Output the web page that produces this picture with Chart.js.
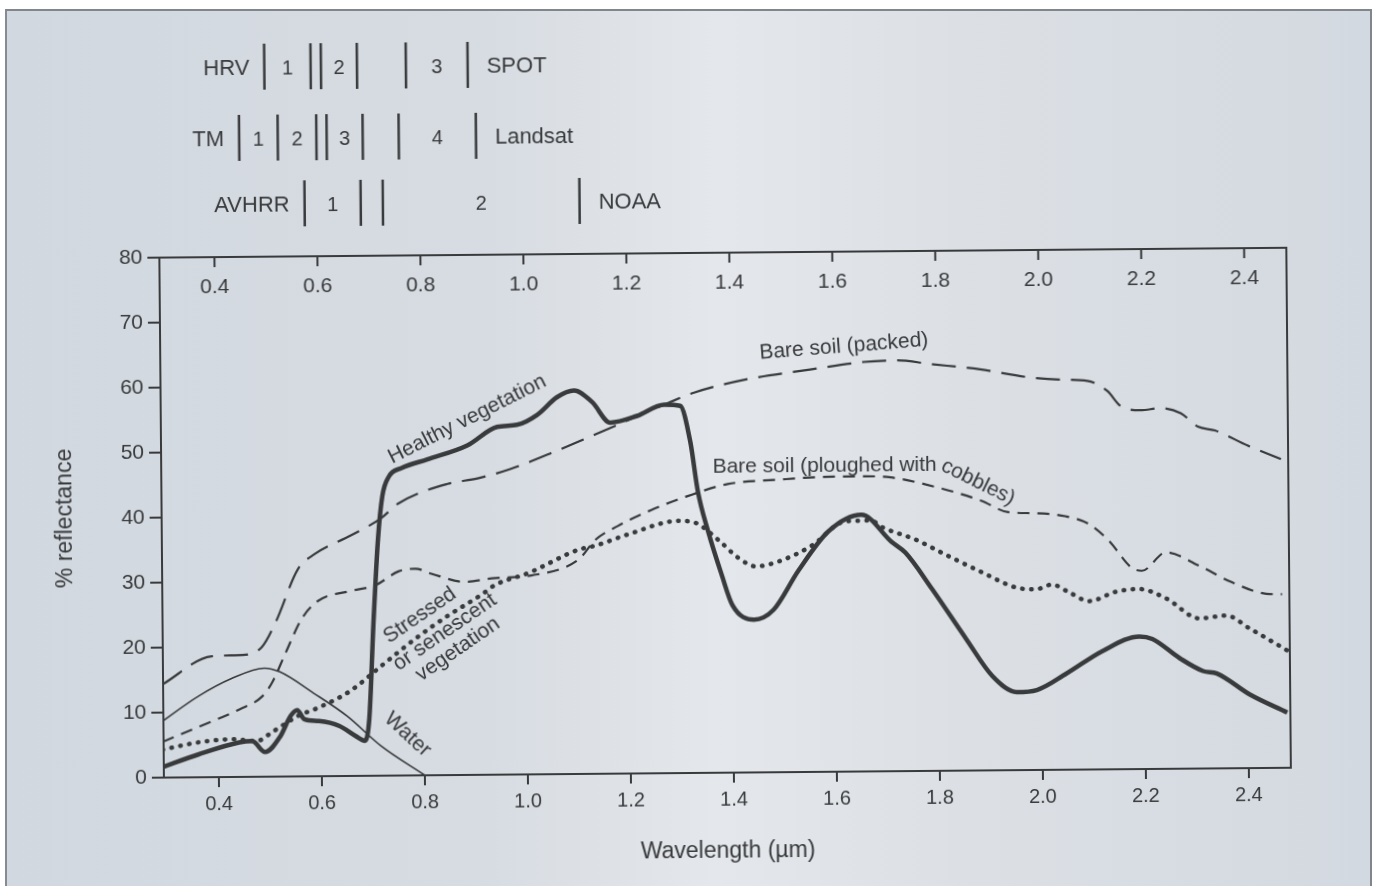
<!DOCTYPE html>
<html>
<head>
<meta charset="utf-8">
<script src="https://cdn.jsdelivr.net/npm/chart.js@4.4.1/dist/chart.umd.min.js"></script>
<style>
html, body { margin: 0; padding: 0; background: #fff; width: 1376px; height: 886px; overflow: hidden; }
#frame {
    position: absolute; left: 5px; top: 9px; width: 1363px; height: 877px;
    border-top: 2px solid #80868c; border-left: 2px solid #868b91; border-right: 2px solid #80868c;
    background: linear-gradient(90deg, #d1d8df 0%, #d7dce2 35%, #e4e7eb 52%, #dce0e5 70%, #d3d9e0 100%);
}
canvas { position: absolute; left: 0; top: 0; transform: rotate(-0.5deg); }
</style>
</head>
<body>
<div id="frame"></div>
<canvas id="chart" width="1376" height="886"></canvas>
<script>
// Tick values
const xTicks = [0.4, 0.6, 0.8, 1.0, 1.2, 1.4, 1.6, 1.8, 2.0, 2.2, 2.4];

// Healthy vegetation
const healthyX = [0.29, 0.36, 0.44, 0.465, 0.49, 0.52, 0.54, 0.553, 0.567, 0.595, 0.635, 0.665, 0.684, 0.693, 0.703, 0.713, 0.722, 0.735, 0.76, 0.81, 0.888, 0.946, 0.985, 1.024, 1.063, 1.096, 1.131, 1.166, 1.218, 1.271, 1.302, 1.321, 1.335, 1.354, 1.38, 1.40, 1.442, 1.48, 1.529, 1.588, 1.652, 1.71, 1.737, 1.788, 1.854, 1.904, 1.951, 1.99, 2.048, 2.118, 2.19, 2.215, 2.268, 2.313, 2.34, 2.404, 2.476];
const healthyY = [1.6, 3.5, 5.3, 5.5, 3.8, 6.2, 9.3, 10.2, 8.8, 8.5, 7.7, 6.2, 5.4, 8.8, 24, 36.5, 43, 46, 47.3, 48.6, 50.7, 53.5, 53.8, 55.3, 58, 59, 57.2, 54, 55, 56.7, 56.5, 51, 43.3, 37.2, 30.4, 25.8, 23.5, 25, 31, 37, 39.5, 35.3, 33.6, 28, 20.2, 14.5, 12, 12.3, 14.8, 18.2, 20.4, 20, 17, 15, 14.6, 11.3, 8.5];

// Water
const waterX = [0.29, 0.36, 0.425, 0.49, 0.52, 0.585, 0.65, 0.715, 0.80];
const waterY = [8.6, 12.4, 15.1, 16.7, 16.1, 12.8, 9.2, 4.6, 0];

// Bare soil (packed)
const packedX = [0.291, 0.388, 0.454, 0.486, 0.513, 0.557, 0.59, 0.66, 0.719, 0.752, 0.849, 0.907, 0.971, 1.063, 1.121, 1.199, 1.271, 1.329, 1.426, 1.555, 1.659, 1.724, 1.788, 1.885, 1.982, 2.048, 2.093, 2.132, 2.157, 2.196, 2.235, 2.274, 2.307, 2.34, 2.404, 2.468];
const packedY = [14.3, 18.6, 18.8, 20, 23.8, 31.9, 34.2, 37, 39.6, 41.8, 44.8, 45.6, 47, 49.8, 51.7, 54.3, 56.7, 58.5, 60.4, 61.9, 63, 63.2, 62.6, 61.7, 60.4, 60, 59.8, 58.2, 55.9, 55.2, 55.5, 54.7, 52.6, 52, 49.6, 47.5];

// Bare soil (ploughed with cobbles)
const ploughedX = [0.291, 0.363, 0.441, 0.486, 0.505, 0.532, 0.563, 0.596, 0.655, 0.707, 0.752, 0.785, 0.816, 0.882, 0.933, 1.01, 1.102, 1.135, 1.179, 1.244, 1.315, 1.393, 1.49, 1.60, 1.66, 1.71, 1.80, 1.885, 1.937, 1.99, 2.048, 2.093, 2.132, 2.176, 2.196, 2.243, 2.307, 2.371, 2.437, 2.468];
const ploughedY = [5.5, 7.8, 10.4, 12.4, 14.5, 19.1, 24.2, 27, 28.4, 29.3, 31.4, 31.8, 31, 29.7, 30.2, 30.6, 33, 36, 38.1, 40.5, 42.6, 44.4, 45, 45.4, 45.4, 45.2, 43.6, 41.5, 39.7, 39.5, 39, 37.8, 35.2, 31, 30.5, 33.3, 31.2, 28.6, 26.8, 26.7];

// Stressed or senescent vegetation
const stressedX = [0.291, 0.363, 0.427, 0.474, 0.505, 0.557, 0.59, 0.655, 0.719, 0.785, 0.849, 0.913, 0.94, 1.005, 1.102, 1.135, 1.199, 1.296, 1.329, 1.374, 1.413, 1.446, 1.49, 1.555, 1.621, 1.671, 1.691, 1.757, 1.821, 1.885, 1.951, 1.99, 2.021, 2.054, 2.093, 2.145, 2.19, 2.243, 2.307, 2.359, 2.404, 2.476];
const stressedY = [4.3, 5.4, 5.8, 5.5, 6.9, 9.4, 10.4, 13, 17, 21.1, 24.6, 27.7, 29.2, 31, 34.5, 35.1, 36.8, 38.8, 38.5, 35.8, 33, 31.7, 32.4, 34.8, 38.5, 38.6, 37.6, 35.6, 33, 30.5, 28.1, 27.8, 28.5, 27.3, 25.9, 27.3, 27.7, 26.2, 23.1, 23.5, 21.5, 18.1];

// Sensor bands (µm)
const hrvBands = [[0.50, 0.59], [0.61, 0.68], [0.775, 0.895]];
const tmBands = [[0.45, 0.525], [0.525, 0.60], [0.62, 0.69], [0.76, 0.91]];
const avhrrBands = [[0.576, 0.685], [0.728, 1.11]];
const sensorNames = ['HRV', 'TM', 'AVHRR'];
const platformNames = ['SPOT', 'Landsat', 'NOAA'];

const ink = '#383a3c';
const FONT = '"Liberation Sans", Arial, Helvetica, sans-serif';

function pts(xs, ys) {
    return xs.map((x, i) => ({ x: x, y: ys[i] }));
}

// curve labels, centred at data coordinates
const curveLabels = [
    { x: 0.888, y: 54.7, angle: -26.3, text: 'Healthy vegetation' },
    { x: 1.621, y: 65.4, angle: -4, text: 'Bare soil (packed)' },
    { x: 0.793, y: 24.6, angle: -34, text: 'Stressed' },
    { x: 0.841, y: 22.0, angle: -34, text: 'or senescent' },
    { x: 0.866, y: 19.35, angle: -34, text: 'vegetation' },
    { x: 0.767, y: 6.3, angle: 43, text: 'Water' }
];
// label that bends with its curve: start point, then pieces with their own angle
const bentLabel = { x: 1.364, y: 47.1, pieces: [['Bare soil (ploughed with ', 0], ['cobbles)', 27]] };

const extras = {
    id: 'extras',
    afterDraw(chart) {
        const ctx = chart.ctx;
        const xs = chart.scales.x, ys = chart.scales.y;
        const a = chart.chartArea;
        ctx.save();
        ctx.strokeStyle = ink;
        ctx.fillStyle = ink;

        // box top + right
        ctx.lineWidth = 2;
        ctx.beginPath();
        ctx.moveTo(a.left, a.top);
        ctx.lineTo(a.right, a.top);
        ctx.lineTo(a.right, a.bottom);
        ctx.stroke();

        // top ticks, labels inside the plot
        ctx.font = '21px ' + FONT;
        ctx.textAlign = 'center';
        ctx.textBaseline = 'middle';
        ctx.beginPath();
        xTicks.forEach(v => {
            const px = xs.getPixelForValue(v);
            ctx.moveTo(px, a.top);
            ctx.lineTo(px, a.top + 10);
            ctx.fillText(v.toFixed(1), px, a.top + 30);
        });
        ctx.stroke();

        // sensor band rows
        const rows = [hrvBands, tmBands, avhrrBands];
        const rowY = [63, 134, 200];
        rows.forEach((bands, r) => {
            const y = rowY[r];
            const edges = bands.flat();
            ctx.lineWidth = 2.5;
            ctx.beginPath();
            edges.forEach(e => {
                const px = xs.getPixelForValue(e);
                ctx.moveTo(px, y - 23);
                ctx.lineTo(px, y + 23);
            });
            ctx.stroke();
            ctx.font = '20px ' + FONT;
            ctx.textAlign = 'center';
            bands.forEach((b, i) => {
                ctx.fillText(String(i + 1), xs.getPixelForValue((b[0] + b[1]) / 2), y + 2);
            });
            ctx.font = '22px ' + FONT;
            ctx.textAlign = 'right';
            ctx.fillText(sensorNames[r], xs.getPixelForValue(edges[0]) - 15, y + 2);
            ctx.textAlign = 'left';
            ctx.fillText(platformNames[r], xs.getPixelForValue(edges[edges.length - 1]) + 19, y + 2);
        });

        // curve labels
        ctx.font = '21px ' + FONT;
        ctx.textAlign = 'center';
        ctx.textBaseline = 'middle';
        curveLabels.forEach(l => {
            ctx.save();
            ctx.translate(xs.getPixelForValue(l.x), ys.getPixelForValue(l.y));
            ctx.rotate(l.angle * Math.PI / 180);
            ctx.fillText(l.text, 0, 0);
            ctx.restore();
        });

        ctx.textAlign = 'left';
        let px = xs.getPixelForValue(bentLabel.x), py = ys.getPixelForValue(bentLabel.y);
        bentLabel.pieces.forEach(([t, deg]) => {
            const r = deg * Math.PI / 180;
            ctx.save();
            ctx.translate(px, py);
            ctx.rotate(r);
            ctx.fillText(t, 0, 0);
            ctx.restore();
            const w = ctx.measureText(t).width;
            px += w * Math.cos(r);
            py += w * Math.sin(r);
        });
        ctx.restore();
    }
};

new Chart(document.getElementById('chart').getContext('2d'), {
    type: 'line',
    data: {
        datasets: [
            { data: pts(packedX, packedY), borderColor: ink, borderWidth: 2.2, borderDash: [24, 11] },
            { data: pts(ploughedX, ploughedY), borderColor: ink, borderWidth: 2.2, borderDash: [12, 8] },
            { data: pts(stressedX, stressedY), borderColor: ink, borderWidth: 4.5, borderDash: [0.5, 8.5], borderCapStyle: 'round' },
            { data: pts(waterX, waterY), borderColor: ink, borderWidth: 1.6 },
            { data: pts(healthyX, healthyY), borderColor: ink, borderWidth: 4.5 }
        ]
    },
    options: {
        responsive: false,
        animation: false,
        events: [],
        layout: { padding: { left: 0, right: 88, top: 253, bottom: 0 } },
        elements: {
            point: { radius: 0 },
            line: { tension: 0.4, cubicInterpolationMode: 'monotone', fill: false }
        },
        plugins: { legend: { display: false }, tooltip: { enabled: false } },
        scales: {
            x: {
                type: 'linear',
                min: 0.293,
                max: 2.482,
                afterBuildTicks: s => { s.ticks = xTicks.map(v => ({ value: v })); },
                afterFit: s => { s.height = 113; },
                grid: { drawOnChartArea: false, drawTicks: true, tickLength: 10, color: ink, lineWidth: 2 },
                border: { display: true, color: ink, width: 2 },
                ticks: {
                    autoSkip: false, maxRotation: 0, padding: 5, color: ink,
                    font: { family: FONT, size: 20 },
                    callback: v => v.toFixed(1)
                },
                title: {
                    display: true, text: 'Wavelength (µm)', color: ink,
                    font: { family: FONT, size: 23 }, padding: { top: 0, bottom: 21 }
                }
            },
            y: {
                min: 0,
                max: 80,
                afterFit: s => { s.width = 161; },
                grid: { drawOnChartArea: false, drawTicks: true, tickLength: 12, color: ink, lineWidth: 2 },
                border: { display: true, color: ink, width: 2 },
                ticks: { stepSize: 10, padding: 5, color: ink, font: { family: FONT, size: 21 } },
                title: {
                    display: true, text: '% reflectance', color: ink,
                    font: { family: FONT, size: 23 }, padding: { top: 51, bottom: 0 }
                }
            }
        }
    },
    plugins: [extras]
});
</script>
</body>
</html>
